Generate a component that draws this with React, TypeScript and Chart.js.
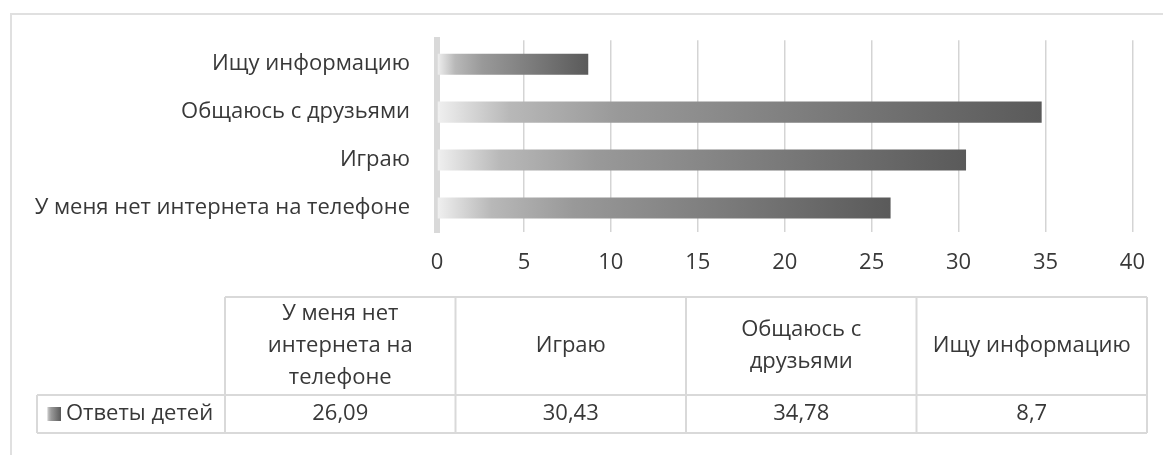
import { useEffect, useRef } from 'react';
import { Chart, registerables } from 'chart.js';

Chart.register(...registerables);

// ---- data ----
const categories: string[] = [
  'У меня нет интернета на телефоне',
  'Играю',
  'Общаюсь с друзьями',
  'Ищу информацию',
];
const seriesName = 'Ответы детей';
const seriesValues: number[] = [26.09, 30.43, 34.78, 8.7];
const axisMin = 0;
const axisMax = 40;
const axisStep = 5;

// ---- style ----
const FONT_FAMILY = '"Open Sans", sans-serif';
const FONT_SIZE = 22;
const TEXT_COLOR = '#383838';
const LINE_COLOR = '#d9d9d9';

function barGradient(ctx: CanvasRenderingContext2D, x0: number, x1: number) {
  const g = ctx.createLinearGradient(x0, 0, x1, 0);
  g.addColorStop(0, '#f0f0f0');
  g.addColorStop(0.12, '#b8b8b8');
  g.addColorStop(0.3, '#999999');
  g.addColorStop(1, '#5a5a5a');
  return g;
}

function wrapText(ctx: CanvasRenderingContext2D, text: string, maxW: number): string[] {
  const words = text.split(' ');
  const lines: string[] = [];
  let cur = '';
  for (const w of words) {
    const test = cur ? cur + ' ' + w : w;
    if (cur && ctx.measureText(test).width > maxW) {
      lines.push(cur);
      cur = w;
    } else {
      cur = test;
    }
  }
  if (cur) lines.push(cur);
  return lines;
}

const fmt = (v: number) => String(v).replace('.', ',');

const tablePlugin = {
  id: 'dataTable',
  afterDraw(chart: any) {
    const ctx: CanvasRenderingContext2D = chart.ctx;
    ctx.save();
    // outer chart border
    ctx.strokeStyle = '#e0e0e0';
    ctx.lineWidth = 2;
    ctx.strokeRect(11, 14, 1300, 600);

    const left = 225;
    const right = 1147;
    const top = 297;
    const mid = 395;
    const bottom = 433;
    const rowLeft = 37;
    const n = categories.length;
    const colW = (right - left) / n;

    ctx.strokeStyle = LINE_COLOR;
    ctx.lineWidth = 2;
    ctx.beginPath();
    ctx.moveTo(left, top); ctx.lineTo(right, top);
    ctx.moveTo(rowLeft, mid); ctx.lineTo(right, mid);
    ctx.moveTo(rowLeft, bottom); ctx.lineTo(right, bottom);
    ctx.moveTo(rowLeft, mid); ctx.lineTo(rowLeft, bottom);
    for (let i = 0; i <= n; i++) {
      const x = left + i * colW;
      ctx.moveTo(x, top); ctx.lineTo(x, bottom);
    }
    ctx.stroke();

    ctx.fillStyle = TEXT_COLOR;
    ctx.font = `${FONT_SIZE}px ${FONT_FAMILY}`;
    ctx.textAlign = 'center';
    ctx.textBaseline = 'middle';
    const lineH = 32;
    const headerMid = (top + mid) / 2;
    const rowMid = (mid + bottom) / 2;
    for (let i = 0; i < n; i++) {
      const cx = left + (i + 0.5) * colW;
      const lines = wrapText(ctx, categories[i], colW - 10);
      const startY = headerMid - ((lines.length - 1) * lineH) / 2;
      lines.forEach((ln, j) => ctx.fillText(ln, cx, startY + j * lineH));
      ctx.fillText(fmt(seriesValues[i]), cx, rowMid);
    }
    // legend key + series name
    const keyX = 47;
    const keyS = 14;
    ctx.fillStyle = barGradient(ctx, keyX, keyX + keyS);
    ctx.fillRect(keyX, rowMid - keyS / 2, keyS, keyS);
    ctx.fillStyle = TEXT_COLOR;
    ctx.textAlign = 'left';
    ctx.fillText(seriesName, keyX + keyS + 5, rowMid);
    ctx.restore();
  },
};

export default function App() {
  const ref = useRef<HTMLCanvasElement | null>(null);
  useEffect(() => {
    if (!ref.current) return;
    const chart = new Chart(ref.current, {
      type: 'bar',
      data: {
        labels: categories,
        datasets: [
          {
            label: seriesName,
            data: seriesValues,
            backgroundColor: (c: any) => {
              const ch = c.chart;
              if (!ch.chartArea || c.raw === undefined) return '#888888';
              const xs = ch.scales.x;
              const x0 = xs.getPixelForValue(0);
              const x1 = xs.getPixelForValue(c.raw);
              return barGradient(ch.ctx, x0, x1);
            },
            borderWidth: 0,
            categoryPercentage: 1,
            barPercentage: 0.44,
          },
        ],
      },
      options: {
        indexAxis: 'y',
        animation: false,
        responsive: true,
        maintainAspectRatio: false,
        layout: { padding: { top: 40, right: 29, bottom: 0, left: 0 } },
        plugins: {
          legend: { display: false },
          tooltip: { enabled: false },
        },
        scales: {
          x: {
            min: axisMin,
            max: axisMax,
            z: 1,
            ticks: {
              stepSize: axisStep,
              color: TEXT_COLOR,
              padding: 18,
              font: { family: FONT_FAMILY, size: FONT_SIZE },
            },
            grid: { color: 'rgba(0,0,0,0.17)', lineWidth: 1.5, drawTicks: false },
            border: { display: false },
            afterFit: (s: any) => { s.height = 455 - 232; },
          },
          y: {
            reverse: true,
            z: 1,
            ticks: {
              color: TEXT_COLOR,
              padding: 27,
              font: { family: FONT_FAMILY, size: FONT_SIZE },
            },
            grid: { display: false, drawTicks: false },
            border: { display: true, color: LINE_COLOR, width: 6 },
            afterFit: (s: any) => { s.width = 437; },
          },
        },
      },
      plugins: [tablePlugin],
    });
    return () => chart.destroy();
  }, []);
  return (
    <div style={{ position: 'fixed', left: 0, top: 0, width: 1163, height: 455, background: '#fff' }}>
      <canvas ref={ref} />
    </div>
  );
}
